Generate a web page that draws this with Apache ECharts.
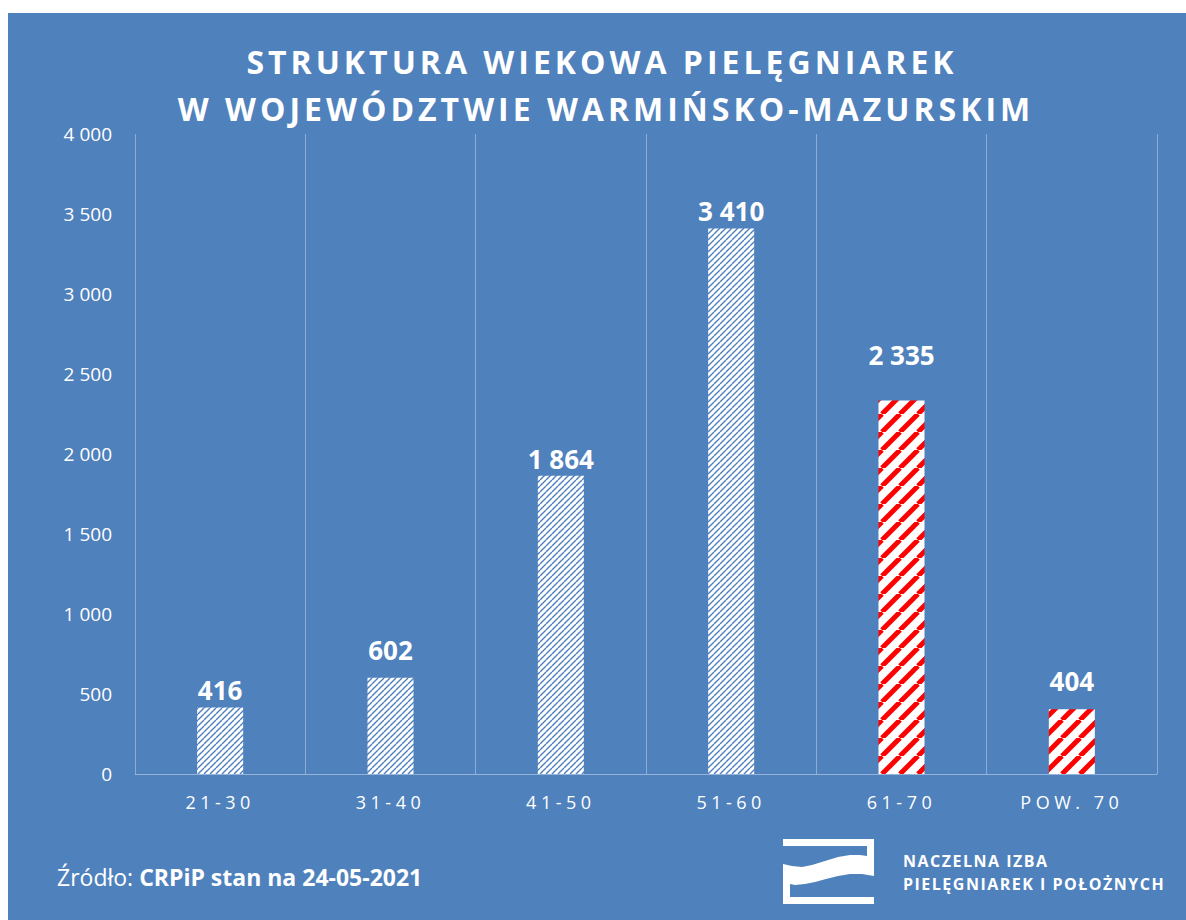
<!DOCTYPE html>
<html>
<head>
<meta charset="utf-8">
<script src="https://cdn.jsdelivr.net/npm/echarts@6/dist/echarts.min.js"></script>
<style>
  html, body { margin: 0; padding: 0; background: #ffffff; }
  #chart { width: 1186px; height: 920px; }
  /* spaced caps for the title, category labels and the logo caption */
  #chart text[style*="Lato"] { letter-spacing: 4px; }
  #chart text[style*="Roboto"] { letter-spacing: 4.5px; }
  #chart text[style*="Inter"] { letter-spacing: 1.5px; }
</style>
</head>
<body>
<div id="chart"></div>
<script>
// Age groups and number of nurses in each group
const categories = ['21-30', '31-40', '41-50', '51-60', '61-70', 'POW. 70'];
const nurses = [416, 602, 1864, 3410, 2335, 404];
// groups at or past retirement age are drawn in red
const retirementGroups = ['61-70', 'POW. 70'];

const titleLines = ['STRUKTURA WIEKOWA PIELĘGNIAREK', 'W WOJEWÓDZTWIE WARMIŃSKO-MAZURSKIM'];
const sourceLabel = 'Źródło: ';
const sourceText = 'CRPiP stan na 24-05-2021';
const logoLines = ['NACZELNA IZBA', 'PIELĘGNIAREK I POŁOŻNYCH'];

const BG = '#4F81BD';

// gap between each bar and its value label, in pixels
const labelGap = [4, 15, 4, 4, 32, 15];

function thousands(v) {
  return String(v).replace(/\B(?=(\d{3})+(?!\d))/g, ' ');
}

// diagonal "/" hatch tile on white
function hatch(size, color, width) {
  const c = document.createElement('canvas');
  c.width = size; c.height = size;
  const ctx = c.getContext('2d');
  ctx.fillStyle = '#ffffff';
  ctx.fillRect(0, 0, size, size);
  ctx.strokeStyle = color;
  ctx.lineWidth = width;
  ctx.beginPath();
  for (const x0 of [-size, 0, size]) {
    ctx.moveTo(x0, size);
    ctx.lineTo(x0 + size, 0);
  }
  ctx.stroke();
  return c;
}

const blueHatch = { image: hatch(6, '#4d7fc0', 1.4), repeat: 'repeat' };
const redHatch = { image: hatch(18, '#ff0000', 5), repeat: 'repeat' };

const barData = nurses.map((v, i) => ({
  value: v,
  itemStyle: { color: retirementGroups.includes(categories[i]) ? redHatch : blueHatch },
  label: { distance: labelGap[i] }
}));

// outline of the chamber's logo mark: top bar, right post, wave, left post, bottom bar
const logoMark = [
  [783, 839], [874, 839], [874, 876],
  [862, 874], [850, 874], [838, 876], [826, 879], [815, 882], [805, 884], [795, 885], [790, 884],
  [790, 897], [874, 897], [874, 904], [783, 904], [783, 864],
  [792, 866], [802, 867], [812, 865], [825, 861], [838, 857], [850, 855], [860, 855], [867, 856],
  [867, 846], [783, 846]
];

const chart = echarts.init(document.getElementById('chart'), null, { renderer: 'svg' });

chart.setOption({
  animation: false,
  backgroundColor: '#ffffff',
  textStyle: { fontFamily: "'Open Sans', sans-serif" },
  grid: { left: 135, right: 29, top: 134, bottom: 146, containLabel: false },
  graphic: [
    { type: 'rect', z: -10, silent: true,
      shape: { x: 8, y: 13, width: 1178, height: 907 },
      style: { fill: BG } },
    { type: 'text', x: 602, y: 61,
      style: { text: titleLines[0], fill: '#ffffff', font: "bold 32px 'Open Sans', Lato",
               textAlign: 'center', textVerticalAlign: 'middle' } },
    { type: 'text', x: 606, y: 108,
      style: { text: titleLines[1], fill: '#ffffff', font: "bold 32px 'Open Sans', Lato",
               textAlign: 'center', textVerticalAlign: 'middle' } },
    { type: 'text', x: 57, y: 877,
      style: {
        text: '{n|' + sourceLabel + '}{b|' + sourceText + '}',
        textVerticalAlign: 'middle',
        rich: {
          n: { fill: '#ffffff', fontSize: 23, fontFamily: "'Open Sans', sans-serif" },
          b: { fill: '#ffffff', fontSize: 23, fontWeight: 'bold', fontFamily: "'Open Sans', sans-serif" }
        }
      } },
    { type: 'polygon', silent: true,
      shape: { points: logoMark },
      style: { fill: '#ffffff' } },
    { type: 'text', x: 903, y: 861,
      style: { text: logoLines[0], fill: '#ffffff', font: "bold 16px 'Open Sans', Inter",
               textVerticalAlign: 'middle' } },
    { type: 'text', x: 903, y: 884,
      style: { text: logoLines[1], fill: '#ffffff', font: "bold 16px 'Open Sans', Inter",
               textVerticalAlign: 'middle' } }
  ],
  xAxis: {
    type: 'category',
    data: categories,
    axisLine: { lineStyle: { color: 'rgba(255,255,255,0.4)', width: 1 } },
    axisTick: { show: false },
    splitLine: { show: true, lineStyle: { color: 'rgba(255,255,255,0.35)', width: 1 } },
    axisLabel: { color: '#ffffff', fontSize: 18, margin: 19, fontFamily: "'Open Sans', Roboto" }
  },
  yAxis: {
    type: 'value',
    min: 0, max: 4000, interval: 500,
    axisLine: { show: false },
    axisTick: { show: false },
    splitLine: { show: false },
    axisLabel: { color: '#ffffff', fontSize: 19, margin: 23, formatter: thousands }
  },
  series: [{
    type: 'bar',
    data: barData,
    barWidth: 46,
    label: {
      show: true, position: 'top',
      color: '#ffffff', fontSize: 26, fontWeight: 'bold',
      formatter: p => thousands(p.value)
    }
  }]
});
</script>
</body>
</html>
